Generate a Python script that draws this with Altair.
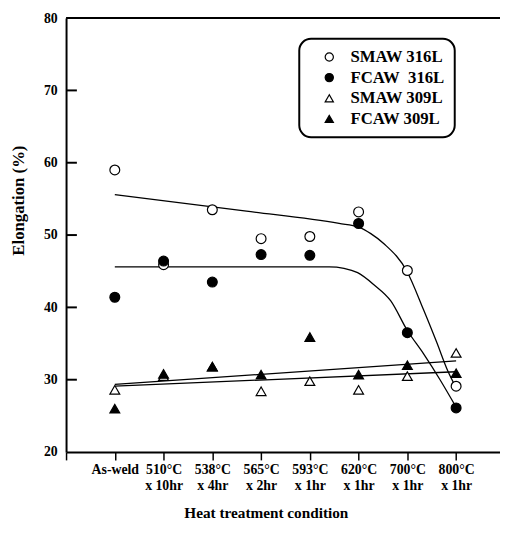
import json
import altair as alt
import pandas as pd

# ---------------- data ----------------
conditions_line1 = ["As-weld", "510°C", "538°C", "565°C", "593°C", "620°C", "700°C", "800°C"]
conditions_line2 = ["", "x 10hr", "x 4hr", "x 2hr", "x 1hr", "x 1hr", "x 1hr", "x 1hr"]
positions = [1, 2, 3, 4, 5, 6, 7, 8]

series_names = ["SMAW 316L", "FCAW\u00a0 316L", "SMAW 309L", "FCAW 309L"]
smaw_316l = [59.0, 45.9, 53.5, 49.5, 49.8, 53.2, 45.1, 29.1]
fcaw_316l = [41.4, 46.4, 43.5, 47.3, 47.2, 51.6, 36.5, 26.1]
smaw_309l = [28.6, 30.5, 31.8, 28.4, 29.8, 28.6, 30.5, 33.7]
fcaw_309l = [26.0, 30.8, 31.8, 30.7, 35.9, 30.7, 32.0, 30.9]

# fitted curves
fit_smaw316_x = [1, 3.7, 5.6, 6.0, 6.25, 6.52, 6.99, 7.33, 7.6, 7.83, 8.0]
fit_smaw316_y = [55.6, 53.3, 51.6, 51.1, 50.2, 48.8, 45.0, 39.7, 35.2, 31.2, 28.9]
fit_fcaw316_x = [1, 5.4, 5.7, 5.98, 6.32, 6.66, 7.0, 7.33, 7.67, 8.0]
fit_fcaw316_y = [45.6, 45.6, 45.4, 44.8, 43.1, 40.9, 36.8, 33.6, 30.0, 26.2]
fit_smaw309_x = [1, 8]
fit_smaw309_y = [29.1, 31.1]
fit_fcaw309_x = [1, 8]
fit_fcaw309_y = [29.35, 32.6]

y_ticks = [20, 30, 40, 50, 60, 70, 80]
inner_ticks = [30, 40, 50, 60, 70]

FONT = "Liberation Serif"

# ---------------- tables ----------------
rows = []
for name, vals in [(series_names[0], smaw_316l), (series_names[2], smaw_309l),
                   (series_names[1], fcaw_316l), (series_names[3], fcaw_309l)]:
    for p, v in zip(positions, vals):
        rows.append({"pos": p, "val": v, "series": name})
points_df = pd.DataFrame(rows)

fit_rows = []
for name, xs, ys in [("s316", fit_smaw316_x, fit_smaw316_y), ("f316", fit_fcaw316_x, fit_fcaw316_y),
                     ("s309", fit_smaw309_x, fit_smaw309_y), ("f309", fit_fcaw309_x, fit_fcaw309_y)]:
    for i, (xx, yy) in enumerate(zip(xs, ys)):
        fit_rows.append({"pos": xx, "val": yy, "fit": name, "i": i})
fit_df = pd.DataFrame(fit_rows)

label_arrays = [[""]] + [[a] if not b else [a, b] for a, b in zip(conditions_line1, conditions_line2)]
label_expr = json.dumps(label_arrays, ensure_ascii=False) + "[datum.value]"

W, H = 441, 441
x_scale = alt.Scale(domain=[0, 8.9], nice=False, zero=False)
y_scale = alt.Scale(domain=[20, 80], nice=False, zero=False)

x_axis = alt.Axis(
    values=list(range(9)), labelExpr=label_expr, grid=False,
    tickSize=8, tickWidth=1.5, tickColor="black",
    domainWidth=2, domainColor="black",
    labelFont=FONT, labelFontWeight="bold", labelFontSize=14, labelColor="black",
    labelPadding=3, labelLineHeight=16, labelBaseline="top",
    labelFlush=False, labelOverlap=False,
    title="Heat treatment condition", titleFont=FONT, titleFontWeight="bold",
    titleFontSize=15.5, titleColor="black", titleX=203, titleY=62, titleBaseline="middle",
)
y_axis = alt.Axis(
    values=y_ticks, grid=False, ticks=False, tickSize=0,
    domainWidth=2, domainColor="black",
    labelFont=FONT, labelFontWeight="bold", labelFontSize=14, labelColor="black",
    labelPadding=9, labelFlush=False,
    title="Elongation (%)", titleFont=FONT, titleFontWeight="bold", titleFontSize=17,
    titleColor="black", titleX=-48, titleY=185, titleBaseline="middle",
)

base_x = alt.X("pos:Q", scale=x_scale, axis=x_axis)
base_y = alt.Y("val:Q", scale=y_scale, axis=y_axis)

lines = alt.Chart(fit_df).mark_line(interpolate="monotone", color="black", strokeWidth=1.3).encode(
    x=base_x, y=base_y, detail="fit:N", order="i:Q"
)

legend = alt.Legend(title=None, orient="none", legendX=237, legendY=21,
                    strokeColor="black", cornerRadius=12, padding=10, fillColor="white",
                    labelFont=FONT, labelFontWeight="bold", labelFontSize=17,
                    labelColor="black", symbolSize=70, symbolStrokeColor="black",
                    symbolStrokeWidth=1.2, symbolOffset=12, labelOffset=13,
                    rowPadding=3)

pts = alt.Chart(points_df).mark_point(filled=True, strokeWidth=1.2, size=100, opacity=1).encode(
    x=alt.X("pos:Q", scale=x_scale),
    y=alt.Y("val:Q", scale=y_scale),
    fill=alt.Fill("series:N", scale=alt.Scale(domain=series_names, range=["white", "black", "white", "black"]),
                  legend=legend),
    stroke=alt.Stroke("series:N", scale=alt.Scale(domain=series_names, range=["black", "black", "black", "black"]),
                      legend=legend),
    shape=alt.Shape("series:N", scale=alt.Scale(domain=series_names,
                                                range=["circle", "circle", "triangle-up", "triangle-up"]),
                    legend=legend),
)

top_df = pd.DataFrame({"val": [80]})
top_line = alt.Chart(top_df).mark_rule(color="black", strokeWidth=2).encode(
    y=alt.Y("val:Q", scale=y_scale), x=alt.datum(0, scale=x_scale), x2=alt.datum(8.9)
)

tick_df = pd.DataFrame({"val": inner_ticks})
inner = alt.Chart(tick_df).mark_rule(color="black", strokeWidth=2).encode(
    y=alt.Y("val:Q", scale=y_scale), x=alt.value(0), x2=alt.value(11)
)

chart = alt.layer(lines, inner, top_line, pts).properties(
    width=W, height=H,
    autosize=alt.AutoSizeParams(type="none"),
    padding={"left": 59, "top": 6, "right": 0, "bottom": 76},
    background="white",
).configure_view(stroke=None).configure_legend(strokeWidth=2)

chart.save("out.html", embed_options={"renderer": "svg", "actions": False})
